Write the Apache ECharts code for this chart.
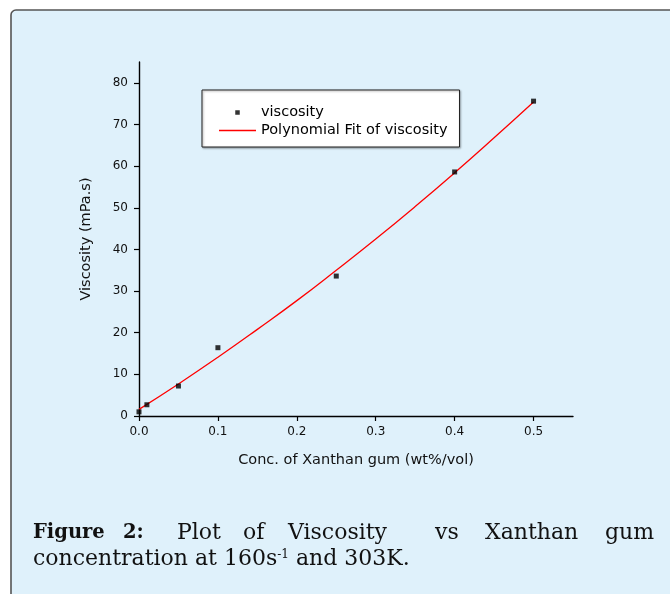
<!DOCTYPE html>
<html>
<head>
<meta charset="utf-8">
<script src="https://cdn.jsdelivr.net/npm/echarts@6/dist/echarts.min.js"></script>
<style>
html,body{margin:0;padding:0;background:#fff;}
#chart{width:670px;height:594px;}
</style>
</head>
<body>
<div id="chart"></div>
<script>
// Measured data points
var concentration = [0, 0.01, 0.05, 0.1, 0.25, 0.4, 0.5];
var viscosity = [1.0, 2.7, 7.2, 16.4, 33.6, 58.6, 75.6];
// Polynomial fit curve
var fitConc = [0, 0.05, 0.1, 0.15, 0.2, 0.25, 0.3, 0.35, 0.4, 0.45, 0.5];
var fitVisc = [1.6, 7.7, 14.1, 20.8, 27.7, 35.0, 42.5, 50.3, 58.4, 66.8, 75.4];
// Ticks
var xTicks = [0, 0.1, 0.2, 0.3, 0.4, 0.5];
var xTickLabels = ['0.0', '0.1', '0.2', '0.3', '0.4', '0.5'];
var yTicks = [0, 10, 20, 30, 40, 50, 60, 70, 80];
var yTickLabels = ['0', '10', '20', '30', '40', '50', '60', '70', '80'];
// Texts
var seriesNames = ['viscosity', 'Polynomial Fit of viscosity'];
var xName = 'Conc. of Xanthan gum (wt%/vol)';
var yName = 'Viscosity (mPa.s)';
var captionLine1 = ['Figure', '2:', 'Plot', 'of', 'Viscosity', 'vs', 'Xanthan', 'gum'];
var captionLine2 = ['concentration at 160s', '-1', ' and 303K.'];

var chart = echarts.init(document.getElementById('chart'), null, {renderer: 'canvas'});

var scatterData = concentration.map(function (x, i) { return [x, viscosity[i]]; });
var fitData = fitConc.map(function (x, i) { return [x, fitVisc[i]]; });

var serif = '"DejaVu Serif", "Liberation Serif", serif';
var sans = '"DejaVu Sans", "Liberation Sans", Arial, sans-serif';

var wordX = [33, 123, 177, 243, 288, 435, 485, 605];
var captionGraphics = captionLine1.map(function (w, i) {
  return {
    type: 'text', x: wordX[i], y: 533, z: 10,
    style: {
      text: w, fill: '#111', align: 'left', verticalAlign: 'middle',
      font: (i < 2 ? 'bold 19.5px ' : '22px ') + serif
    }
  };
});
captionGraphics.push({
  type: 'text', x: 33, y: 559, z: 10,
  style: {
    text: '{n|' + captionLine2[0] + '}{s|' + captionLine2[1] + '}{n|' + captionLine2[2] + '}',
    align: 'left', verticalAlign: 'middle',
    rich: {
      n: {fontSize: 22, fontFamily: serif, fill: '#111', color: '#111', lineHeight: 26, verticalAlign: 'middle'},
      s: {fontSize: 12, fontFamily: serif, fill: '#111', color: '#111', lineHeight: 26, verticalAlign: 'top', padding: [3, 0, 0, 0]}
    }
  }
});

var option = {
  animation: false,
  backgroundColor: '#ffffff',
  graphic: [{
    type: 'rect', z: -10,
    shape: {x: 11, y: 10, width: 700, height: 620, r: 5},
    style: {fill: '#dff1fb', stroke: '#555', lineWidth: 1.6}
  }].concat(captionGraphics),
  grid: {left: 139, right: 97, top: 62, bottom: 178, containLabel: false},
  legend: {
    orient: 'vertical', left: 202, top: 90,
    padding: [15, 12, 9, 17], itemGap: 3,
    itemWidth: 37, itemHeight: 6,
    backgroundColor: '#ffffff', borderColor: '#222', borderWidth: 1,
    shadowColor: 'rgba(0,0,0,0.35)', shadowBlur: 2, shadowOffsetX: 1, shadowOffsetY: 1,
    textStyle: {fontFamily: sans, fontSize: 14.5, color: '#000', padding: [0, 0, 0, 0]},
    data: [
      {name: seriesNames[0], icon: 'path://M0,0M37,6M16.25,0.75h4.5v4.5h-4.5z', itemStyle: {color: '#000', borderWidth: 0}},
      {name: seriesNames[1], icon: 'path://M0,0M37,6M0,2.25h37v1.5h-37z', itemStyle: {color: '#ff0000', borderWidth: 0}}
    ]
  },
  xAxis: {
    type: 'value', min: 0, max: 0.55,
    name: xName, nameLocation: 'middle', nameGap: 37,
    nameTextStyle: {fontFamily: sans, fontSize: 14.5, color: '#111'},
    axisLine: {show: true, onZero: false, lineStyle: {color: '#000', width: 1.4}},
    axisTick: {show: true, inside: false, length: 5, lineStyle: {color: '#000', width: 1.2}, customValues: xTicks},
    axisLabel: {
      customValues: xTicks, margin: 10, fontFamily: sans, fontSize: 12, color: '#111',
      formatter: function (v) { var i = xTicks.indexOf(v); return i >= 0 ? xTickLabels[i] : ''; }
    },
    splitLine: {show: false}
  },
  yAxis: {
    type: 'value', min: 0, max: 85,
    name: yName, nameLocation: 'middle', nameGap: 45, nameRotate: 90,
    nameTextStyle: {fontFamily: sans, fontSize: 14.5, color: '#111'},
    axisLine: {show: true, onZero: false, lineStyle: {color: '#000', width: 1.4}},
    axisTick: {show: true, inside: false, length: 5, lineStyle: {color: '#000', width: 1.2}, customValues: yTicks},
    axisLabel: {
      customValues: yTicks, margin: 11, fontFamily: sans, fontSize: 12, color: '#111',
      formatter: function (v) { var i = yTicks.indexOf(v); return i >= 0 ? yTickLabels[i] : ''; }
    },
    splitLine: {show: false}
  },
  series: [
    {
      name: seriesNames[1], type: 'line', data: fitData, smooth: true,
      showSymbol: false, symbol: 'none', z: 2,
      color: '#ff0000',
      lineStyle: {color: '#ff0000', width: 1.3}
    },
    {
      name: seriesNames[0], type: 'scatter', data: scatterData,
      symbol: 'rect', symbolSize: 5, z: 3,
      itemStyle: {color: '#000'}
    }
  ]
};
chart.setOption(option);
</script>
</body>
</html>
